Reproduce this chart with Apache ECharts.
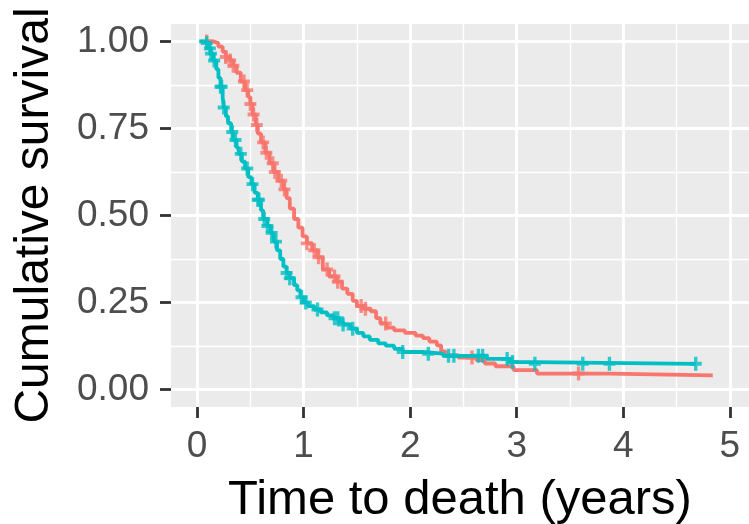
<!DOCTYPE html>
<html>
<head>
<meta charset="utf-8">
<script src="https://cdn.jsdelivr.net/npm/echarts@6/dist/echarts.min.js"></script>
<style>
  html, body { margin: 0; padding: 0; background: #fff; }
  #main { width: 749px; height: 524px; }
</style>
</head>
<body>
<div id="main"></div>
<script>
// survival curves: [time in years, cumulative survival]
const redCurve = [
  [0.08, 1.0], [0.15, 0.995], [0.20, 0.985], [0.24, 0.97], [0.27, 0.955],
  [0.31, 0.945], [0.34, 0.93], [0.37, 0.91], [0.41, 0.885], [0.45, 0.86],
  [0.48, 0.84], [0.50, 0.82], [0.52, 0.79], [0.55, 0.76], [0.57, 0.735],
  [0.60, 0.71], [0.64, 0.68], [0.68, 0.65], [0.72, 0.625], [0.76, 0.60],
  [0.81, 0.575], [0.84, 0.55], [0.87, 0.52], [0.91, 0.49], [0.95, 0.465],
  [0.99, 0.44], [1.03, 0.42], [1.08, 0.40], [1.13, 0.38], [1.18, 0.345],
  [1.24, 0.325], [1.31, 0.31], [1.36, 0.29], [1.41, 0.275], [1.46, 0.255],
  [1.50, 0.24], [1.57, 0.232], [1.63, 0.225], [1.68, 0.205], [1.72, 0.19],
  [1.78, 0.178], [1.85, 0.17], [1.95, 0.163], [2.05, 0.155], [2.12, 0.148],
  [2.18, 0.138], [2.25, 0.127], [2.29, 0.11], [2.33, 0.098], [2.45, 0.092],
  [2.62, 0.085], [2.70, 0.075], [2.80, 0.067], [2.97, 0.056], [3.19, 0.046],
  [3.875, 0.041], [4.84, 0.041]
];
const tealCurve = [
  [0.02, 1.0], [0.08, 0.995], [0.11, 0.98], [0.13, 0.965], [0.15, 0.945],
  [0.18, 0.92], [0.20, 0.895], [0.22, 0.87], [0.24, 0.84], [0.25, 0.81],
  [0.27, 0.785], [0.29, 0.765], [0.32, 0.74], [0.34, 0.717], [0.37, 0.695],
  [0.39, 0.677], [0.42, 0.655], [0.45, 0.635], [0.48, 0.61], [0.51, 0.59],
  [0.54, 0.565], [0.57, 0.545], [0.60, 0.515], [0.62, 0.49], [0.66, 0.47],
  [0.69, 0.45], [0.72, 0.425], [0.75, 0.40], [0.78, 0.375], [0.81, 0.353],
  [0.84, 0.335], [0.87, 0.32], [0.91, 0.30], [0.94, 0.285], [0.97, 0.265],
  [1.00, 0.25], [1.04, 0.24], [1.10, 0.23], [1.16, 0.222], [1.22, 0.213],
  [1.28, 0.205], [1.33, 0.195], [1.37, 0.187], [1.44, 0.175], [1.50, 0.163],
  [1.56, 0.153], [1.62, 0.143], [1.70, 0.133], [1.77, 0.126], [1.85, 0.117],
  [1.93, 0.108], [2.12, 0.103], [2.31, 0.097], [2.72, 0.088], [2.94, 0.079],
  [3.17, 0.074], [4.68, 0.074]
];
// censoring times (the + marks)
const redCensor = [0.09, 0.27, 0.31, 0.34, 0.44, 0.47, 0.50, 0.53, 0.56, 0.62,
  0.65, 0.71, 0.73, 0.79, 0.82, 1.03, 1.10, 1.14, 1.22, 1.29, 1.32, 1.54,
  1.58, 1.77, 2.58, 3.58];
const tealCensor = [0.09, 0.12, 0.13, 0.16, 0.22, 0.23, 0.25, 0.33, 0.36, 0.41,
  0.47, 0.52, 0.57, 0.58, 0.63, 0.66, 0.70, 0.74, 0.84, 0.87, 0.98, 1.02,
  1.13, 1.29, 1.32, 1.37, 1.46, 1.93, 2.17, 2.36, 2.41, 2.64, 2.68, 2.91,
  2.96, 3.17, 3.62, 3.87, 4.68];
const xTicks = [0, 1, 2, 3, 4, 5];
const yTicks = [0, 0.25, 0.5, 0.75, 1];

const RED = '#F8766D';
const TEAL = '#00BFC4';
const FONT = '"Liberation Sans", Arial, Helvetica, sans-serif';

// panel limits (ggplot expansion)
const XMIN = -0.245, XMAX = 5.18;
const YMIN = -0.05, YMAX = 1.05;
const PANEL = { left: 171, right: 0, top: 24, bottom: 117 };
const pxX = (749 - PANEL.left - PANEL.right) / (XMAX - XMIN);
const pxY = (524 - PANEL.top - PANEL.bottom) / (YMAX - YMIN);

// survival at time t from a step curve
function survAt(curve, t) {
  let s = curve[0][1];
  for (const p of curve) {
    if (p[0] <= t) s = p[1];
  }
  return s;
}

const plus = 'path://M3.6,0H6.4V3.6H10V6.4H6.4V10H3.6V6.4H0V3.6H3.6Z';

const chart = echarts.init(document.getElementById('main'));

chart.setOption({
  animation: false,
  backgroundColor: '#fff',
  grid: [
    // panel with data
    { left: PANEL.left, right: PANEL.right, top: PANEL.top, bottom: PANEL.bottom,
      show: true, backgroundColor: '#EBEBEB', borderWidth: 0, z: -1,
      outerBoundsMode: 'none' },
    // x gridlines / labels
    { left: PANEL.left + (xTicks[0] - XMIN) * pxX,
      right: (XMAX - xTicks[xTicks.length - 1]) * pxX,
      top: PANEL.top, bottom: PANEL.bottom, outerBoundsMode: 'none' },
    // y gridlines / labels
    { left: PANEL.left, right: PANEL.right,
      top: PANEL.top + (YMAX - yTicks[yTicks.length - 1]) * pxY,
      bottom: PANEL.bottom + (yTicks[0] - YMIN) * pxY, outerBoundsMode: 'none' }
  ],
  xAxis: [
    {
      gridIndex: 0, type: 'value', min: XMIN, max: XMAX,
      axisLine: { show: false }, axisTick: { show: false },
      axisLabel: { show: false }, splitLine: { show: false },
      name: 'Time to death (years)', nameLocation: 'middle', nameGap: 69,
      nameTextStyle: { fontSize: 49, color: '#000', fontFamily: FONT }
    },
    {
      gridIndex: 1, type: 'value', min: xTicks[0], max: xTicks[xTicks.length - 1], interval: 1,
      axisLine: { show: false },
      axisTick: { show: true, length: 11, lineStyle: { color: '#333333', width: 2.8 } },
      axisLabel: { margin: 21, fontSize: 37, color: '#4D4D4D', fontFamily: FONT },
      splitLine: { show: true, lineStyle: { color: '#fff', width: 2.8 } },
      minorTick: { show: false, splitNumber: 2 },
      minorSplitLine: { show: true, lineStyle: { color: '#fff', width: 1.4 } }
    },
    { gridIndex: 2, type: 'value', show: false, min: 0, max: 1 }
  ],
  yAxis: [
    {
      gridIndex: 0, type: 'value', min: YMIN, max: YMAX,
      axisLine: { show: false }, axisTick: { show: false },
      axisLabel: { show: false }, splitLine: { show: false },
      name: 'Cumulative survival', nameLocation: 'middle', nameGap: 112,
      nameTextStyle: { fontSize: 48, color: '#000', fontFamily: FONT }
    },
    { gridIndex: 1, type: 'value', show: false, min: 0, max: 1 },
    {
      gridIndex: 2, type: 'value', min: yTicks[0], max: yTicks[yTicks.length - 1], interval: 0.25,
      axisLine: { show: false },
      axisTick: { show: true, length: 11, lineStyle: { color: '#333333', width: 2.8 } },
      axisLabel: { margin: 22, fontSize: 37, color: '#4D4D4D', fontFamily: FONT,
        formatter: v => v.toFixed(2) },
      splitLine: { show: true, lineStyle: { color: '#fff', width: 2.8 } },
      minorTick: { show: false, splitNumber: 2 },
      minorSplitLine: { show: true, lineStyle: { color: '#fff', width: 1.4 } }
    }
  ],
  series: [
    {
      type: 'line', xAxisIndex: 0, yAxisIndex: 0, step: 'end',
      data: redCurve, showSymbol: false, z: 3,
      lineStyle: { color: RED, width: 3.8 }
    },
    {
      type: 'line', xAxisIndex: 0, yAxisIndex: 0, step: 'end',
      data: tealCurve, showSymbol: false, z: 4,
      lineStyle: { color: TEAL, width: 3.8 }
    },
    {
      type: 'scatter', xAxisIndex: 0, yAxisIndex: 0, z: 3,
      data: redCensor.map(t => [t, survAt(redCurve, t)]),
      symbol: plus, symbolSize: [12, 14], itemStyle: { color: RED }
    },
    {
      type: 'scatter', xAxisIndex: 0, yAxisIndex: 0, z: 4,
      data: tealCensor.map(t => [t, survAt(tealCurve, t)]),
      symbol: plus, symbolSize: [12, 14], itemStyle: { color: TEAL }
    }
  ]
});
</script>
</body>
</html>
